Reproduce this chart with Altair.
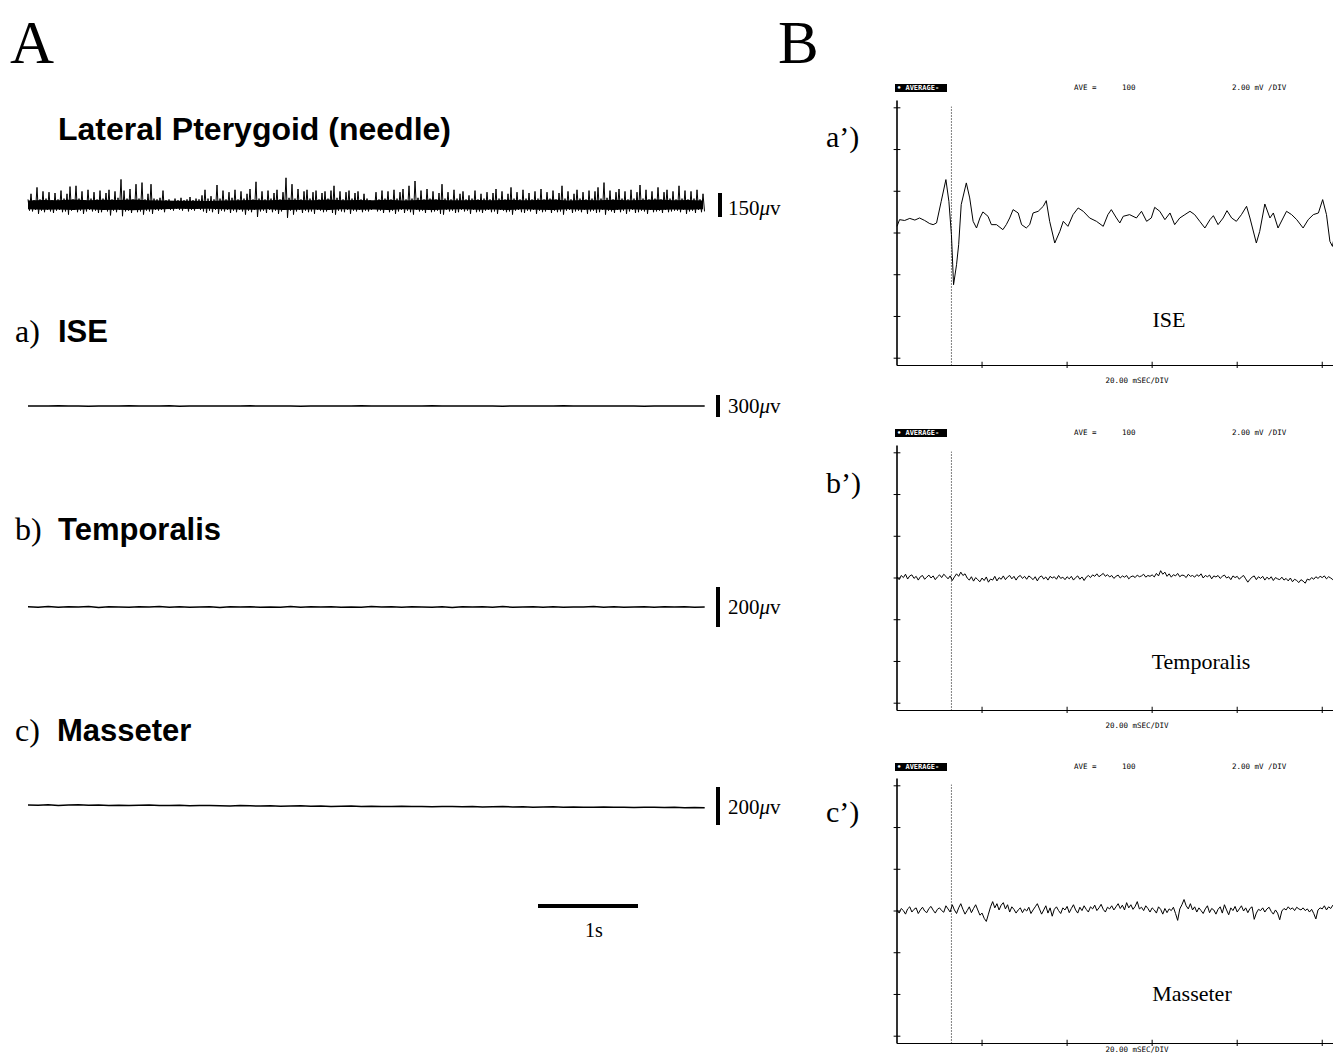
import altair as alt
import pandas as pd

M = 8  # page margin

# ---------------- data ----------------
# A: needle EMG (uV), upper / lower excursions per 0.03 s sample
NEEDLE_DT = 0.03
needle_hi = [35,70,30,110,35,85,40,80,30,75,
             35,90,40,70,115,35,120,40,85,30,
             95,40,80,35,90,40,75,95,35,85,
             45,160,90,40,100,35,130,40,140,35,
             70,130,40,35,45,90,30,35,25,40,
             30,45,30,35,50,30,40,35,60,95,
             40,55,35,125,40,90,35,80,45,95,
             35,85,40,70,100,35,145,40,85,35,
             90,40,75,95,35,80,170,45,130,40,
             100,35,85,95,40,80,90,35,75,85,
             40,90,120,45,85,35,80,90,40,75,
             85,35,70,40,30,20,80,35,90,40,
             85,35,95,40,80,100,35,120,40,150,
             45,90,35,100,40,85,35,75,130,40,
             80,35,95,40,70,85,35,60,40,90,
             35,70,40,80,35,75,100,40,85,35,
             70,110,40,80,35,95,40,75,35,85,
             40,100,35,80,40,90,35,75,120,40,
             85,35,70,95,40,80,35,90,40,85,
             110,40,140,45,90,35,80,100,40,85,
             35,95,40,80,125,40,95,35,85,40,
             110,35,80,95,40,85,35,120,40,90,
             35,85,40,95,35,70]
needle_lo = [-35,-40,-30,-55,-35,-45,-30,-40,-50,-35,-30,-45,-40,-60,-35,-30,-45,-35,-55,-40,
             -30,-40,-35,-50,-45,-30,-40,-65,-35,-45,-30,-70,-40,-35,-50,-30,-45,-40,-60,-35,
             -40,-55,-30,-35,-30,-45,-25,-30,-35,-25,-30,-35,-25,-40,-30,-35,-25,-30,-40,-50,
             -35,-45,-30,-55,-35,-40,-30,-50,-35,-45,-30,-40,-60,-35,-45,-30,-75,-40,-35,-50,
             -30,-45,-35,-55,-40,-30,-80,-35,-60,-40,-30,-50,-35,-45,-40,-55,-30,-35,-45,-40,
             -30,-50,-60,-35,-40,-45,-30,-55,-35,-40,-30,-45,-35,-40,-30,-20,-40,-35,-50,-30,
             -45,-35,-55,-40,-30,-50,-35,-45,-60,-30,-40,-35,-50,-30,-45,-40,-35,-55,-60,-30,
             -40,-35,-50,-45,-30,-40,-35,-55,-30,-45,-40,-50,-35,-30,-45,-40,-55,-30,-35,-45,
             -40,-60,-35,-30,-45,-50,-35,-40,-30,-55,-35,-45,-40,-30,-50,-35,-45,-40,-60,-35,
             -30,-50,-40,-35,-45,-30,-55,-40,-35,-50,-45,-30,-60,-35,-40,-50,-30,-45,-35,-55,
             -40,-30,-50,-45,-35,-40,-55,-30,-45,-40,-35,-50,-30,-45,-40,-35,
             -35,-45,-30,-55,-40,-35,-50,-30,-45,-40]
# dense core of the needle trace (uV), every 0.15 s
BAND_DT = 0.15
band_hi = [28,32,30,34,29,33,31,35,30,28,26,27,25,28,30,32,29,33,31,30,
           34,29,32,30,33,28,31,34,30,29,32,30,33,29,31,34,28,32,30,33,
           29,31,34,30,32,28]
band_lo = [-26,-30,-28,-32,-27,-31,-29,-33,-28,-26,-24,-25,-23,-26,-28,-30,-27,-31,-29,-28,
           -32,-27,-30,-28,-31,-26,-29,-32,-28,-27,-30,-28,-31,-27,-29,-32,-26,-30,-28,-31,
           -27,-29,-32,-28,-30,-26]

# A: surface EMG traces (uV), one value per 0.101 s
FLAT_DT = 0.101
ise_raw = [0,1,-1,2,-1,1,-2,0,1,-1,2,-1,1,0,2,-2,1,0,-1,1,0,-1,2,-1,1,0,1,-2,1,0,
           -1,1,-1,2,0,1,-1,0,1,-1,2,-1,1,-1,1,0,0,-2,1,1,-1,1,0,2,-1,1,-1,0,1,-1,
           1,-2,1,0,-1,1,0,1]
temp_raw = [1,-1,2,-1,1,0,2,-2,1,0,-1,1,0,2,-1,1,-1,0,1,-2,1,0,1,-1,0,-1,2,-1,1,0,
            1,-1,0,-1,2,0,1,-1,1,0,-1,1,-2,1,0,1,-1,2,-1,0,1,-1,1,-1,0,0,2,-1,1,-1,
            0,1,-1,1,0,1,-1,0]
mass_raw = [5,4,6,3,5,6,4,5,3,4,3,4,5,2,3,4,1,2,3,1,0,2,1,0,1,-1,0,1,-1,0,
            -2,-1,0,-2,-1,-3,-2,-1,-3,-2,-4,-3,-2,-4,-3,-5,-4,-3,-5,-4,-6,-5,-4,-6,-5,-7,-6,-5,-7,-6,
            -8,-7,-6,-8,-7,-9,-8,-9]

# B: averaged traces (ms, mV)
ise_avg_t = [0,0.6,1.8,3.0,4.2,5.3,6.5,7.7,8.5,9.3,
             10.4,11.5,12.2,12.8,13.3,14.0,14.5,15.1,16.3,17.1,
             17.9,18.7,19.5,20.2,21.4,22.2,23.4,24.9,25.7,26.5,
             27.3,28.5,29.3,30.4,31.2,32.0,33.2,34.4,35.1,35.9,
             37.1,38.3,39.1,40.2,41.4,42.6,43.8,45.3,46.9,48.5,
             49.6,50.4,51.6,52.4,53.2,54.7,56.3,57.5,58.7,59.8,
             60.6,61.8,63.0,64.2,65.3,66.5,67.7,68.9,70.0,71.2,
             72.4,73.6,74.4,75.5,76.7,77.6,78.7,79.8,81.0,82.2,
             83.0,84.5,85.3,86.5,87.7,88.5,89.6,90.8,91.6,92.8,
             94.0,95.5,96.7,97.9,99.1,100.1,101.0,101.8,102.4,103.0]
ise_avg_v = [0.32,0.64,0.60,0.70,0.62,0.72,0.60,0.45,0.40,0.48,
             1.52,2.56,1.52,-0.08,-2.48,-1.52,-0.56,1.36,2.40,1.68,
             0.56,0.24,0.72,1.01,0.80,0.40,0.40,0.16,0.40,0.72,
             1.12,0.96,0.40,0.24,0.40,0.96,1.04,1.28,1.55,0.56,
             -0.48,0.08,0.56,0.32,0.88,1.20,1.04,0.72,0.56,0.32,
             0.88,1.12,0.72,0.48,0.80,0.88,0.72,1.04,0.56,0.72,
             1.23,1.04,0.64,0.96,0.40,0.72,0.88,1.04,0.88,0.56,
             0.24,0.64,0.83,0.40,0.72,1.07,0.72,0.56,0.88,1.28,
             0.72,-0.48,0.08,1.39,0.72,0.96,0.24,0.72,1.04,0.88,
             0.64,0.24,0.64,0.88,0.96,1.60,0.88,-0.40,-0.64,0.00]
AVG_DT = 0.5
temp_avg_v = [0.05,-0.08,0.12,0.02,0.18,-0.05,0.10,0.15,-0.02,0.08,-0.10,0.06,0.12,-0.06,0.04,0.14,0.00,0.10,-0.08,0.05,
              0.15,0.02,0.18,0.08,-0.04,0.10,-0.12,0.05,0.20,0.08,0.28,0.12,0.20,0.00,-0.10,0.06,-0.15,0.02,-0.08,-0.18,
              0.00,-0.12,0.05,-0.20,-0.05,-0.10,0.08,-0.14,0.02,-0.06,0.10,-0.08,0.05,0.12,-0.04,0.08,-0.10,0.06,0.12,-0.02,
              0.08,-0.06,0.10,0.02,-0.08,0.06,-0.14,0.04,0.10,-0.05,0.05,-0.10,0.08,0.00,0.06,-0.06,0.12,-0.02,0.04,-0.08,
              0.06,-0.04,0.08,-0.10,0.02,0.10,-0.06,0.05,-0.12,0.04,0.12,0.02,0.15,0.08,0.20,0.06,0.14,0.22,0.08,0.16,
              0.05,0.12,-0.02,0.08,0.14,0.00,0.10,0.04,0.12,-0.04,0.06,0.10,0.02,0.14,0.06,0.10,0.18,0.04,0.12,0.08,
              0.15,0.05,0.22,0.10,0.35,0.18,0.28,0.08,0.20,0.04,0.16,0.10,0.22,0.06,0.14,0.12,0.02,0.18,0.08,0.12,
              0.04,0.16,0.08,0.20,0.00,0.12,0.06,0.14,-0.04,0.10,0.05,0.12,-0.02,0.08,0.14,0.00,0.06,-0.08,0.10,0.02,
              0.08,-0.06,0.05,0.12,-0.04,-0.20,-0.06,0.04,0.10,-0.08,0.06,-0.02,0.08,-0.10,0.04,-0.06,0.06,-0.12,0.02,-0.04,
              -0.08,0.04,-0.10,-0.02,-0.14,0.00,-0.18,-0.06,-0.12,-0.22,-0.08,-0.15,-0.25,-0.05,-0.10,0.02,-0.06,0.06,-0.02,0.08,
              0.02,0.10,-0.04,0.06,0.00,-0.08,-0.04]
mass_avg_v = [0.05,-0.10,0.12,0.02,-0.15,0.10,0.20,-0.05,0.08,0.15,-0.12,0.05,0.18,0.00,-0.08,0.12,0.22,0.04,-0.10,0.08,
              0.15,0.02,-0.06,0.25,0.10,-0.05,0.30,0.05,-0.12,0.15,0.35,0.08,-0.15,0.02,0.20,-0.08,0.12,0.30,0.05,-0.20,
              -0.10,-0.35,-0.50,-0.15,0.20,0.45,0.15,0.35,0.05,0.28,0.40,0.10,0.30,-0.05,0.20,0.08,-0.10,0.05,0.15,-0.08,
              0.10,0.00,0.18,-0.12,0.05,0.20,0.35,0.10,-0.15,0.05,0.25,-0.10,0.15,-0.25,0.08,0.20,0.02,-0.12,0.15,0.05,
              0.22,-0.08,0.12,0.30,0.05,-0.10,0.18,0.02,0.25,0.08,-0.05,0.20,0.10,0.28,0.02,0.15,0.32,0.08,-0.05,0.18,
              0.10,0.25,0.05,0.20,0.35,0.12,0.28,0.05,0.40,0.15,0.30,0.08,0.22,0.45,0.10,0.18,0.02,0.25,0.12,-0.05,
              0.15,0.05,-0.10,0.20,0.08,-0.15,0.12,-0.08,0.10,0.02,0.18,-0.12,-0.45,0.10,0.30,0.55,0.25,0.10,0.35,0.05,
              0.20,-0.05,0.15,0.02,-0.12,0.10,0.25,-0.08,0.12,0.05,-0.15,0.08,0.20,-0.10,0.30,0.05,-0.18,0.15,0.02,0.22,
              -0.05,0.10,0.25,0.00,0.15,-0.08,0.12,0.20,-0.40,-0.10,0.08,0.02,0.15,-0.05,0.10,0.18,-0.02,-0.15,0.05,-0.10,
              -0.42,0.00,0.12,0.05,0.20,0.08,0.15,0.02,0.18,0.10,0.05,0.15,0.02,0.10,-0.05,0.08,-0.12,-0.38,0.05,0.15,
              0.10,0.25,0.05,0.20,0.12,0.28,0.15]

scope_xticks = [20, 40, 60, 80, 100]          # ms
scope_yticks = [-6, -4, -2, 0, 2, 4, 6]       # mV
SCOPE_T = [0, 103]                            # ms shown
SCOPE_V = [-6.35, 6.35]                       # mV shown
STIM_T = 12.8                                  # ms, dotted marker

# ---------------- helpers ----------------
layers = []
SERIF = "Liberation Serif"
SANS = "Liberation Sans"
MONO = "DejaVu Sans Mono"


def text(s, x, y, size, font=SERIF, weight="normal", align="left",
         baseline="alphabetic", color="black", style="normal"):
    layers.append(
        alt.Chart(pd.DataFrame({"s": [s]}))
        .mark_text(align=align, baseline=baseline, font=font, fontSize=size,
                   fontWeight=weight, fontStyle=style, color=color)
        .encode(text="s:N", x=alt.value(x - M), y=alt.value(y - M))
    )


def line(df, xsc, ysc, w=1.0, join="miter"):
    layers.append(
        alt.Chart(df).mark_line(color="black", strokeWidth=w, strokeJoin=join)
        .encode(x=alt.X("t:Q", scale=xsc, axis=None),
                y=alt.Y("v:Q", scale=ysc, axis=None))
    )


def vrule(df, xsc, ysc, w=1.0, dash=None):
    kw = dict(color="black", strokeWidth=w)
    if dash:
        kw["strokeDash"] = dash
    layers.append(
        alt.Chart(df).mark_rule(**kw)
        .encode(x=alt.X("t:Q", scale=xsc, axis=None),
                y=alt.Y("v:Q", scale=ysc, axis=None), y2="v2:Q")
    )


def hrule(df, xsc, ysc, w=1.0):
    layers.append(
        alt.Chart(df).mark_rule(color="black", strokeWidth=w)
        .encode(x=alt.X("t:Q", scale=xsc, axis=None), x2="t2:Q",
                y=alt.Y("v:Q", scale=ysc, axis=None))
    )


def bar_label(num, x, base):
    text(num, x, base, 21)
    text("\u03bc", x + 31.5, base, 21, style="italic")
    text("v", x + 42, base, 21)


# ---------------- panel A ----------------
xA = alt.Scale(domain=[0, 6.77], range=[28 - M, 705 - M])


def ysc(center, domain_half, px_half):
    return alt.Scale(domain=[-domain_half, domain_half],
                     range=[center - M + px_half, center - M - px_half])


yN = ysc(205, 150, 24)
# dense core band
band_df = pd.DataFrame({"t": [i * BAND_DT for i in range(len(band_hi))],
                        "v": band_hi, "v2": band_lo})
layers.append(
    alt.Chart(band_df).mark_area(color="black", opacity=1)
    .encode(x=alt.X("t:Q", scale=xA, axis=None),
            y=alt.Y("v:Q", scale=yN, axis=None), y2="v2:Q")
)
# spikes as zigzag between upper and lower excursions
rows = []
for i, (hi, lo) in enumerate(zip(needle_hi, needle_lo)):
    rows.append((i * NEEDLE_DT, hi))
    rows.append((i * NEEDLE_DT + NEEDLE_DT / 2, lo))
needle_df = pd.DataFrame(rows, columns=["t", "v"])
line(needle_df, xA, yN, w=1.0, join="bevel")
vrule(pd.DataFrame({"t": [6.92], "v": [-75], "v2": [75]}), xA, yN, w=4)

flat_specs = [
    (ise_raw, ysc(406, 300, 22), 300),
    (temp_raw, ysc(607, 200, 40), 200),
    (mass_raw, ysc(806, 200, 38), 200),
]
for vals, sc, full in flat_specs:
    df = pd.DataFrame({"t": [i * FLAT_DT for i in range(len(vals))], "v": vals})
    line(df, xA, sc, w=1.5)
    vrule(pd.DataFrame({"t": [6.9], "v": [-full / 2], "v2": [full / 2]}), xA, sc, w=4)

# 1 s time bar
layers.append(
    alt.Chart(pd.DataFrame({"t": [5.1], "t2": [6.1]}))
    .mark_rule(color="black", strokeWidth=4)
    .encode(x=alt.X("t:Q", scale=xA, axis=None), x2="t2:Q", y=alt.value(906 - M))
)
text("1s", 594, 937, 20, align="center")

text("A", 10, 63, 61)
text("Lateral Pterygoid (needle)", 58, 140, 32, font=SANS, weight="bold")
text("a)", 15, 342, 32)
text("ISE", 58, 342, 31, font=SANS, weight="bold")
text("b)", 15, 540, 32)
text("Temporalis", 58, 540, 31, font=SANS, weight="bold")
text("c)", 15, 741, 32)
text("Masseter", 57, 741, 31, font=SANS, weight="bold")
bar_label("150", 728, 215)
bar_label("300", 728, 413)
bar_label("200", 728, 614)
bar_label("200", 728, 814)

# ---------------- panel B ----------------
text("B", 778, 63, 61)
xB = alt.Scale(domain=SCOPE_T, range=[897 - M, 1335 - M])
panels = [
    (233, 88, "a\u2019)", 147, "ISE", 1169, 327, 381, ise_avg_t, ise_avg_v),
    (578, 433, "b\u2019)", 493, "Temporalis", 1201, 669, 726, None, temp_avg_v),
    (911, 767, "c\u2019)", 822, "Masseter", 1192, 1001, 1050, None, mass_avg_v),
]
for zero, hy, lab, lab_y, name, name_x, name_y, foot_y, tvals, vvals in panels:
    yB = alt.Scale(domain=SCOPE_V, range=[zero - M + 132.5, zero - M - 132.5])
    # axes
    vrule(pd.DataFrame({"t": [0], "v": [SCOPE_V[0]], "v2": [SCOPE_V[1]]}), xB, yB, w=1.6)
    hrule(pd.DataFrame({"t": [SCOPE_T[0]], "t2": [SCOPE_T[1]], "v": [SCOPE_V[0]]}), xB, yB, w=1.2)
    layers.append(
        alt.Chart(pd.DataFrame({"v": scope_yticks, "t": -0.8, "t2": 0.8}))
        .mark_rule(color="black", strokeWidth=1)
        .encode(x=alt.X("t:Q", scale=xB, axis=None), x2="t2:Q",
                y=alt.Y("v:Q", scale=yB, axis=None))
    )
    vrule(pd.DataFrame({"t": scope_xticks, "v": SCOPE_V[0] - 0.12, "v2": SCOPE_V[0] + 0.18}),
          xB, yB, w=1)
    vrule(pd.DataFrame({"t": [STIM_T], "v": [SCOPE_V[0]], "v2": [SCOPE_V[1] - 0.3]}),
          xB, yB, w=1, dash=[1, 2])
    # trace
    if tvals is None:
        tvals = [i * AVG_DT for i in range(len(vvals))]
    line(pd.DataFrame({"t": tvals, "v": vvals}), xB, yB, w=1.0)
    # header
    layers.append(
        alt.Chart(pd.DataFrame({"s": [0]})).mark_rect(color="black")
        .encode(x=alt.value(895 - M), x2=alt.value(947 - M),
                y=alt.value(hy - 4 - M), y2=alt.value(hy + 4 - M))
    )
    text("\u2022 AVERAGE-", 897, hy, 7, font=MONO, weight="bold", baseline="middle", color="white")
    text("AVE =", 1074, hy, 7.5, font=MONO, baseline="middle")
    text("100", 1122, hy, 7.5, font=MONO, baseline="middle")
    text("2.00 mV /DIV", 1232, hy, 7.5, font=MONO, baseline="middle")
    text("20.00 mSEC/DIV", 1137, foot_y, 7.5, font=MONO, align="center", baseline="middle")
    # labels
    text(lab, 826, lab_y, 30)
    text(name, name_x, name_y, 22, align="center")

chart = (
    alt.layer(*layers)
    .resolve_scale(x="independent", y="independent")
    .properties(width=1341 - 2 * M, height=1061 - 2 * M, padding=0,
                autosize=alt.AutoSizeParams(type="none"))
    .configure_view(strokeWidth=0)
)
chart.save("out.html", embed_options={"renderer": "svg", "actions": False})
